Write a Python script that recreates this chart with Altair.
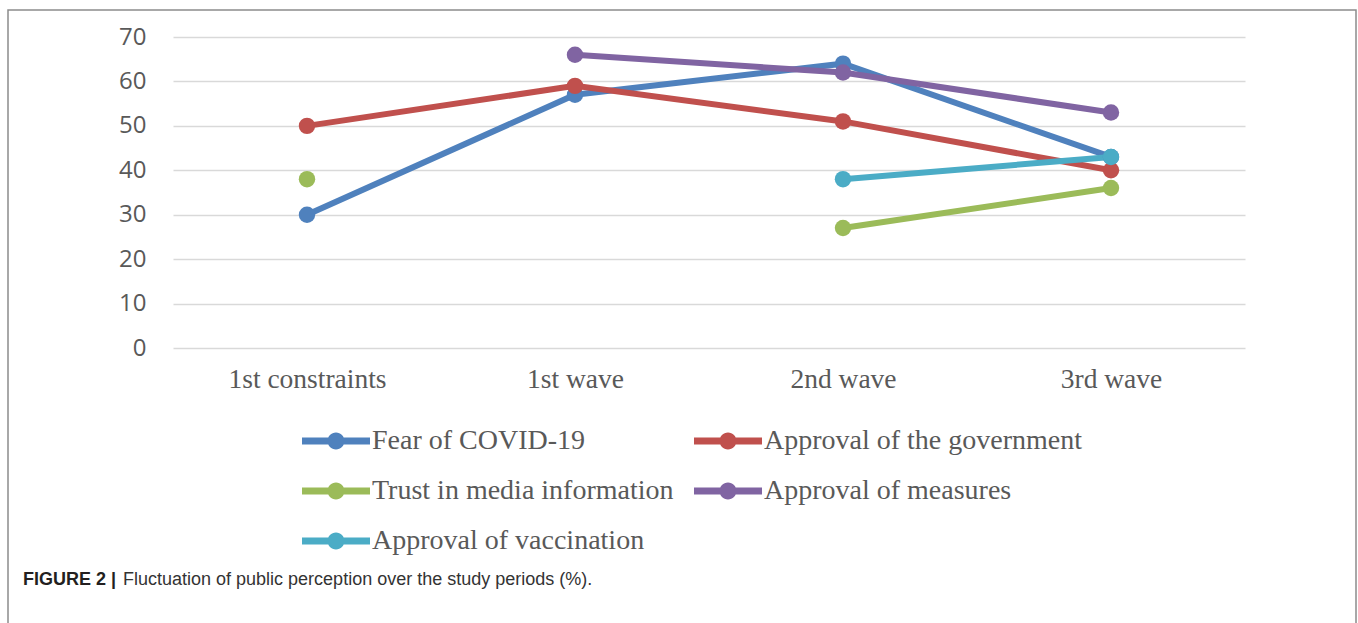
import altair as alt
import pandas as pd

categories = ["1st constraints", "1st wave", "2nd wave", "3rd wave"]
series_names = [
    "Fear of COVID-19",
    "Approval of the government",
    "Trust in media information",
    "Approval of measures",
    "Approval of vaccination",
]
fear = [30, 57, 64, 43]
government = [50, 59, 51, 40]
trust_media = [38, None, 27, 36]
measures = [None, 66, 62, 53]
vaccination = [None, None, 38, 43]
colors = ["#4F81BD", "#C0504D", "#9BBB59", "#8064A2", "#4BACC6"]

rows = []
for name, vals in zip(series_names, [fear, government, trust_media, measures, vaccination]):
    seg = 0
    for cat, v in zip(categories, vals):
        if v is None:
            seg += 1
            continue
        rows.append({"period": cat, "value": v, "series": name, "seg": f"{name}-{seg}"})
df = pd.DataFrame(rows)

x_enc = alt.X("period:N", sort=categories, scale=alt.Scale(type="point", padding=0.5),
              axis=alt.Axis(title=None, domain=False, ticks=False, grid=False, labelAngle=0,
                            labelFont="Liberation Serif", labelFontSize=27.5, labelColor="#595959",
                            labelPadding=17))
y_enc = alt.Y("value:Q", scale=alt.Scale(domain=[0, 70], nice=False),
              axis=alt.Axis(title=None, domain=False, ticks=False, values=list(range(0, 71, 10)),
                            gridColor="#d9d9d9", gridWidth=1.5,
                            labelFont="Open Sans", labelFontSize=24, labelColor="#595959",
                            labelPadding=27))
color_scale = alt.Scale(domain=series_names, range=colors)

legend_path = ("M-1,-0.1H1V0.1H-1Z"
               "M0.25,0A0.25,0.25,0,1,1,-0.25,0A0.25,0.25,0,1,1,0.25,0Z")
legend = alt.Legend(title=None, orient="none", legendX=129, legendY=370,
                    direction="horizontal", columns=2,
                    symbolType=legend_path, symbolSize=4624,
                    symbolStrokeWidth=0, symbolOpacity=1,
                    labelFont="Liberation Serif", labelFontSize=28,
                    labelColor="#595959", labelOffset=2,
                    columnPadding=20, rowPadding=2, labelLimit=0)
color_enc = alt.Color("series:N", scale=color_scale, sort=series_names, legend=legend)

lines = alt.Chart(df).mark_line(strokeWidth=6).encode(
    x=x_enc, y=y_enc, color=color_enc, detail="seg:N",
)
points = alt.Chart(df).mark_circle(size=270, opacity=1).encode(
    x=x_enc, y=y_enc, color=color_enc,
)

frame_df = pd.DataFrame({"k": [0]})
frame = alt.Chart(frame_df).mark_rect(fill=None, stroke="#8c8c8c", strokeWidth=1.5, clip=False).encode(
    x=alt.value(-165), x2=alt.value(1183), y=alt.value(-27), y2=alt.value(640),
)
cap_bold = alt.Chart(frame_df).mark_text(text="FIGURE 2 |", font="Liberation Sans", fontWeight="bold",
                                         fontSize=18, color="#231f20", align="left",
                                         baseline="alphabetic").encode(
    x=alt.value(-150), y=alt.value(548))
cap_text = alt.Chart(frame_df).mark_text(text="Fluctuation of public perception over the study periods (%).",
                                         font="Liberation Sans", fontSize=18, color="#333333",
                                         align="left", baseline="alphabetic").encode(
    x=alt.value(-50), y=alt.value(548))

chart = alt.layer(frame, lines, points, cap_bold, cap_text).properties(
    width=1072, height=311,
    autosize=alt.AutoSizeParams(type="none"),
    padding={"left": 173, "top": 37, "right": 113, "bottom": 275},
).configure_view(stroke=None)

chart.save("out.html", embed_options={"renderer": "svg", "actions": False})
